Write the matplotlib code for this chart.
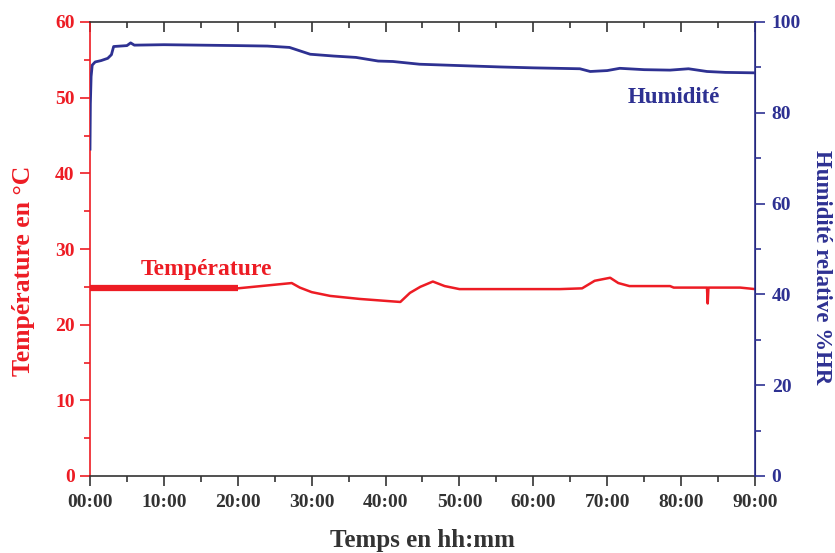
import matplotlib
matplotlib.use("Agg")
import matplotlib.pyplot as plt
from matplotlib.ticker import MultipleLocator, FuncFormatter
from matplotlib.lines import TICKDOWN

RED = "#ED1C24"
BLUE = "#2E3192"
DARK = "#333333"

# Time in hours
temp_t_comb = [0.0, 20.0]
temp_v_comb = [24.8, 24.8]
temp_t = [20.0, 27.3, 28.4, 30.0, 32.5, 36.5, 40.6, 42.0, 43.3, 44.7, 46.4, 48.0,
          50.0, 63.6, 66.6, 68.3, 70.4, 71.5, 73.0, 78.5, 79.0, 83.5, 83.6, 83.7, 88.0, 90.0]
temp_v = [24.8, 25.5, 24.9, 24.3, 23.8, 23.4, 23.1, 23.0, 24.2, 25.0, 25.7, 25.1,
          24.7, 24.7, 24.8, 25.8, 26.2, 25.5, 25.1, 25.1, 24.9, 24.9, 22.8, 24.9, 24.9, 24.7]

hum_t = [0.0, 0.05, 0.15, 0.3, 0.7, 1.5, 2.4, 2.9, 3.2, 5.0, 5.5, 6.0, 10.0, 15.0, 20.0,
         24.0, 27.0, 29.8, 33.0, 36.0, 39.0, 41.0, 44.6, 50.0, 55.5, 60.0, 66.3, 67.7,
         70.0, 71.7, 75.0, 78.5, 81.0, 83.5, 86.0, 90.0]
hum_v = [72.0, 82.0, 88.0, 90.5, 91.2, 91.5, 92.0, 92.8, 94.6, 94.8, 95.4, 94.9, 95.0, 94.9, 94.8,
         94.7, 94.4, 92.9, 92.5, 92.2, 91.4, 91.3, 90.7, 90.4, 90.1, 89.9, 89.7, 89.1,
         89.3, 89.8, 89.5, 89.4, 89.7, 89.1, 88.9, 88.8]

x_ticks = list(range(0, 91, 10))

plt.rcParams['font.family'] = ['Liberation Serif', 'DejaVu Serif']
plt.rcParams['font.weight'] = 'bold'

W, H = 835, 553
fig = plt.figure(figsize=(W/100, H/100), dpi=100)
ax = fig.add_axes([90/W, 1-476/H, (755-90)/W, (476-22)/H])
ax2 = ax.twinx()

ax.plot(temp_t_comb, temp_v_comb, color=RED, lw=4.5, solid_capstyle='butt')
ax.plot(temp_t, temp_v, color=RED, lw=1.8)
ax2.plot(hum_t, hum_v, color=BLUE, lw=2.0)

ax.set_xlim(0, 90)
ax.set_ylim(0, 60)
ax2.set_ylim(0, 100)

ax.set_xticks(x_ticks)
ax.xaxis.set_major_formatter(FuncFormatter(lambda v, p: f"{int(v):02d}:00"))
ax.xaxis.set_minor_locator(MultipleLocator(5))
ax.yaxis.set_major_locator(MultipleLocator(10))
ax.yaxis.set_minor_locator(MultipleLocator(5))
ax2.yaxis.set_major_locator(MultipleLocator(20))
ax2.yaxis.set_minor_locator(MultipleLocator(10))

MAJ, MIN = 7, 4
ax.tick_params(axis='x', which='major', direction='out', length=MAJ, width=1.2, colors=DARK,
               labelsize=14, top=True, pad=6)
ax.tick_params(axis='x', which='minor', direction='out', length=MIN, width=1.2, colors=DARK, top=True)
ax.tick_params(axis='y', which='major', direction='out', length=MAJ, width=1.2, colors=RED, labelsize=14, pad=4)
ax.tick_params(axis='y', which='minor', direction='out', length=MIN, width=1.2, colors=RED)
ax2.tick_params(axis='y', which='major', direction='out', length=MAJ, width=1.2, colors=BLUE, labelsize=14, pad=5)
ax2.tick_params(axis='y', which='minor', direction='out', length=MIN, width=1.2, colors=BLUE)

# top ticks point inward
for t in ax.xaxis.get_major_ticks():
    t.tick2line.set_marker(TICKDOWN)
    t.tick2line.set_markersize(MAJ)
for t in ax.xaxis.get_minor_ticks():
    t.tick2line.set_marker(TICKDOWN)
    t.tick2line.set_markersize(MIN)

ax.spines['left'].set_color(RED)
ax.spines['bottom'].set_color(DARK)
ax.spines['top'].set_color(DARK)
ax2.spines['right'].set_color(BLUE)
ax2.spines['left'].set_visible(False)
ax2.spines['top'].set_visible(False)
ax2.spines['bottom'].set_visible(False)
for s in ['left', 'bottom', 'top']:
    ax.spines[s].set_linewidth(1.2)
ax2.spines['right'].set_linewidth(1.2)

ax.set_xlabel("Temps en hh:mm", fontsize=18, fontweight='bold', color=DARK, labelpad=13)
fig.text(24/W, 1-271/H, "Température en °C", fontsize=18.5, fontweight='bold', color=RED,
         rotation=90, ha='center', va='center')
fig.text(822/W, 1-267/H, "Humidité relative %HR", fontsize=16.5, fontweight='bold', color=BLUE,
         rotation=270, ha='center', va='center')

ax.text(15.8, 26.6, "Température", color=RED, fontsize=17, fontweight='bold', ha='center', va='baseline')
ax2.text(79.0, 82.2, "Humidité", color=BLUE, fontsize=16.5, fontweight='bold', ha='center', va='baseline')

fig.savefig("out.png", dpi=100)
